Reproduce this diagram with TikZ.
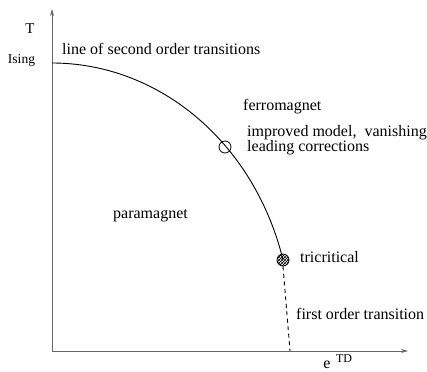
\documentclass[tikz,border=0pt]{standalone}
\usepackage{fontspec}
\setmainfont{Liberation Serif}
\usetikzlibrary{arrows.meta,patterns}

\begin{document}
\begin{tikzpicture}[x=1pt,y=-1pt,
  axisline/.style={line width=1pt, draw=black!60, -{Stealth[length=7pt,width=4pt,fill=black]}},
  phaseline/.style={line width=0.9pt, draw=black},
  firstline/.style={line width=0.9pt, draw=black, dash pattern=on 4pt off 3.5pt},
  marker/.style={circle, draw=black, line width=0.8pt, minimum size=12pt, inner sep=0pt},
  lbl/.style={font=\fontsize{16}{15}\selectfont, inner sep=0pt, anchor=base west, align=left},
  smalllbl/.style={font=\fontsize{13.5}{14}\selectfont, inner sep=0pt, anchor=base},
  tinylbl/.style={font=\fontsize{12}{13}\selectfont, inner sep=0pt, anchor=base}]
\useasboundingbox (0,0) rectangle (427,371);

% axes
\coordinate (origin) at (52,351);
\coordinate (ytip) at (52,9);
\coordinate (xtip) at (408,351);
\coordinate (foot) at (290,351);
\draw[axisline] (origin) -- (ytip);
\draw[axisline] (origin) -- (xtip);

% line of second order transitions (quarter-ellipse arc)
\draw[phaseline] plot[domain=0:74.8, samples=80, variable=\t]
  ({52+239.4*sin(\t)}, {330-267*cos(\t)});

% special points on the line
\node[marker] (imp) at (225,147) {};
\node[marker, pattern=crosshatch, pattern color=black] (tri) at (283,260) {};

% first order part
\draw[firstline] (tri.south) -- (foot);

% axis labels
\node[font=\fontsize{15}{15}\selectfont, inner sep=0pt, anchor=base] (tlabel) at (30,33.5) {T};
\node[smalllbl] (ising) at (21.5,63.5) {Ising};
\node[font=\fontsize{16}{16}\selectfont, inner sep=0pt, anchor=base] (elabel) at (327,368) {e};
\node[tinylbl] (tdlabel) at (344,362.5) {TD};

% region and point labels
\node[lbl] (second) at (62,54.5) {line of second order transitions};
\node[lbl] (ferro) at (243,110.5) {ferromagnet};
\node[lbl] (improved) at (247,151.5) {improved model,\ \ vanishing\\leading corrections};
\node[lbl] (para) at (113,218) {paramagnet};
\node[lbl] (tricrit) at (300,262) {tricritical};
\node[lbl] (first) at (296,319) {first order transition};
\end{tikzpicture}
\end{document}
